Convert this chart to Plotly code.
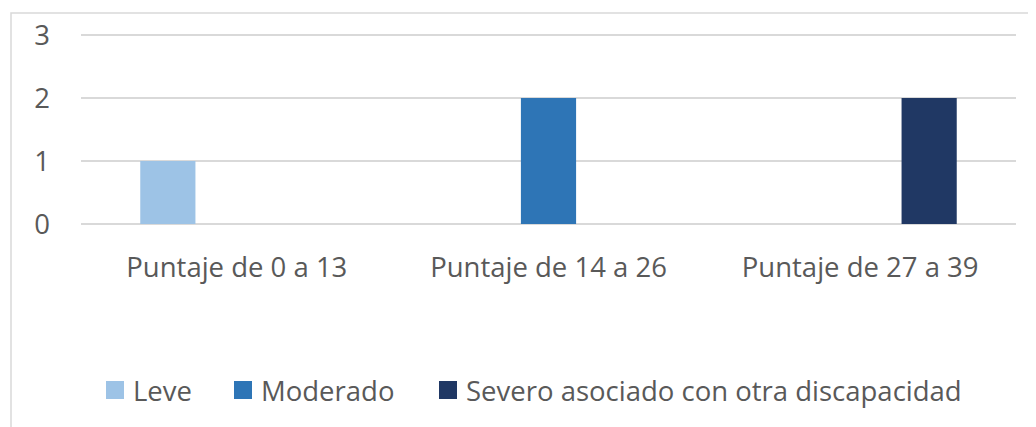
import plotly.graph_objects as go

categories = ["Puntaje de 0 a 13", "Puntaje de 14 a 26", "Puntaje de 27 a 39"]
series_names = ["Leve", "Moderado", "Severo asociado con otra discapacidad"]
leve = [1, 0, 0]
moderado = [0, 2, 0]
severo = [0, 0, 2]
y_ticks = [0, 1, 2, 3]

colors = ["#9DC3E6", "#2E75B6", "#203864"]
font_family = "Open Sans"
text_color = "#595959"
fs = 27.5

# page body has an 8px margin; work in screen pixels and convert
OFF = 8
W, H = 1036 - OFF, 427 - OFF
Y_TOP = 3 + 3 / 63          # a little headroom so the top gridline shows
L, R, T, B = 81, 1016, 32, 224   # plot area in screen pixels
PW, PH = R - L, B - T
def px(x):
    return (x - L) / PW
def py(y):
    return (B - y) / PH

fig = go.Figure()
for name, vals, col in zip(series_names, [leve, moderado, severo], colors):
    fig.add_trace(go.Bar(x=categories, y=vals, name=name, marker_color=col,
                         marker_line_width=0, showlegend=False))

shapes = [dict(type="rect", xref="paper", yref="paper",
               x0=px(11), x1=px(1045), y0=py(440), y1=py(13),
               line=dict(color="#D9D9D9", width=1.5), fillcolor="rgba(0,0,0,0)",
               layer="below")]
annotations = []
leg_sq_x = [106, 234, 439]
leg_y = 390
for name, col, sx in zip(series_names, colors, leg_sq_x):
    shapes.append(dict(type="rect", xref="paper", yref="paper",
                       x0=px(sx), x1=px(sx + 18), y0=py(leg_y + 9), y1=py(leg_y - 9),
                       line=dict(width=0), fillcolor=col))
    annotations.append(dict(xref="paper", yref="paper", x=px(sx + 25), y=py(leg_y),
                            xanchor="left", yanchor="middle", text=name, showarrow=False,
                            font=dict(family=font_family, size=fs, color=text_color)))

fig.update_layout(
    width=W, height=H,
    margin=dict(l=L - OFF, r=1036 - R, t=T - OFF, b=427 - B, autoexpand=False),
    barmode="group", bargap=0.336, bargroupgap=0.2,
    plot_bgcolor="white", paper_bgcolor="white",
    font=dict(family=font_family, size=fs, color=text_color),
    showlegend=False,
    shapes=shapes,
    annotations=annotations,
)
fig.update_xaxes(showgrid=False, showline=False, ticks="", ticklabelstandoff=24,
                 automargin=False, tickfont=dict(size=fs, color=text_color))
fig.update_yaxes(range=[0, Y_TOP], tickvals=y_ticks, showgrid=True, gridcolor="#D9D9D9",
                 gridwidth=1.5, zeroline=True, zerolinecolor="#D9D9D9", zerolinewidth=1.5,
                 showline=False, ticks="", ticklabelstandoff=30, automargin=False,
                 tickfont=dict(size=fs, color=text_color))

fig.write_html("out.html")
